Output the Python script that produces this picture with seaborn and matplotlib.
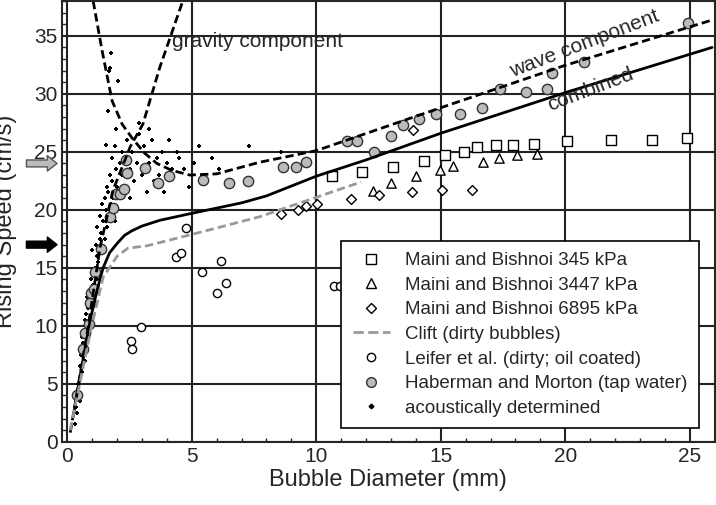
import numpy as np
import pandas as pd
import seaborn as sns
import matplotlib.pyplot as plt
from matplotlib.lines import Line2D

# data
maini345_d = [10.64, 11.84, 13.08, 14.32, 15.16, 15.92, 16.44, 17.24, 17.92, 18.76, 20.08, 21.84, 23.48, 24.88]
maini345_v = [22.9, 23.3, 23.7, 24.2, 24.7, 25.0, 25.4, 25.6, 25.6, 25.7, 25.9, 26.0, 26.0, 26.2]
maini3447_d = [12.28, 13.0, 14.0, 14.96, 15.48, 16.68, 17.36, 18.08, 18.88]
maini3447_v = [21.6, 22.3, 22.9, 23.4, 23.8, 24.1, 24.5, 24.7, 24.8]
maini6895_d = [8.6, 9.28, 9.6, 10.04, 11.4, 12.52, 13.84, 13.88, 15.04, 16.24]
maini6895_v = [19.6, 20.0, 20.3, 20.5, 20.9, 21.3, 21.5, 26.9, 21.7, 21.7]
leifer_d = [4.76, 4.36, 4.56, 5.4, 6.16, 6.0, 6.36, 2.96, 2.56, 2.6, 10.72, 10.96]
leifer_v = [18.4, 15.9, 16.3, 14.6, 15.6, 12.8, 13.7, 9.9, 8.7, 8.0, 13.4, 13.4]
haber_d = [0.4, 0.64, 0.72, 0.88, 0.92, 0.96, 1.08, 1.12, 1.36, 1.72, 1.84, 1.96, 2.12, 2.28, 2.4, 2.36,
           3.12, 3.64, 4.08, 5.44, 6.48, 7.24, 8.68, 9.2, 9.6, 11.24, 11.64, 12.32, 13.0, 13.48, 14.12,
           14.8, 15.76, 16.64, 17.4, 18.44, 19.28, 19.48, 20.76, 24.92]
haber_v = [4.0, 8.0, 9.4, 10.2, 12.0, 12.8, 13.2, 14.6, 16.6, 19.4, 20.2, 21.4, 21.4, 21.8, 23.2, 24.3,
           23.6, 22.3, 22.9, 22.6, 22.3, 22.5, 23.7, 23.7, 24.1, 25.9, 25.9, 25.0, 26.4, 27.3, 27.8,
           28.3, 28.3, 28.8, 30.4, 30.2, 30.4, 31.8, 32.7, 36.1]
acou_d = [0.3, 0.35, 0.4, 0.45, 0.5, 0.5, 0.55, 0.6, 0.6, 0.65, 0.7, 0.7, 0.75, 0.8, 0.8, 0.85, 0.9, 0.9,
          0.95, 1.0, 1.0, 1.05, 1.1, 1.1, 1.15, 1.2, 1.2, 1.25, 1.3, 1.3, 1.35, 1.4, 1.4, 1.45, 1.5, 1.5,
          1.55, 1.6, 1.6, 1.65, 1.7, 1.7, 1.75, 1.8, 1.8, 1.85, 1.9, 1.9, 1.95, 2.0, 2.0, 2.1, 2.1, 2.2,
          2.2, 2.3, 2.3, 2.4, 2.5, 2.5, 2.6, 2.7, 2.8, 2.9, 3.0, 3.1, 3.2, 3.3, 3.4, 3.5, 3.6, 3.7, 3.8,
          3.9, 4.0, 4.1, 4.2, 4.4, 4.5, 4.7, 4.9, 5.1, 5.3, 5.5, 5.8, 6.1, 7.3, 8.6, 1.76, 1.68, 1.72,
          2.04, 1.64, 1.96, 1.56, 2.9, 3.3, 1.2, 0.9]
acou_v = [1.5, 3.0, 2.5, 5.0, 3.5, 6.5, 7.5, 6.0, 9.0, 8.5, 10.5, 7.0, 11.0, 9.5, 12.5, 11.5, 13.0, 10.0,
          14.0, 12.0, 16.5, 13.5, 15.0, 12.0, 17.0, 16.0, 18.5, 15.5, 17.5, 19.5, 18.0, 20.5, 16.5, 19.0,
          21.0, 17.5, 20.0, 22.0, 18.5, 21.5, 23.0, 19.5, 20.5, 24.5, 22.5, 21.0, 25.5, 19.0, 23.5, 22.0,
          20.0, 24.0, 21.5, 23.0, 25.0, 22.0, 24.5, 26.0, 21.0, 23.5, 25.0, 22.5, 24.0, 26.5, 23.0, 25.5,
          21.5, 24.0, 26.0, 22.5, 24.5, 23.0, 25.0, 21.5, 24.0, 26.0, 23.5, 25.0, 24.5, 23.5, 22.0, 24.0,
          25.5, 23.0, 24.5, 23.5, 25.5, 25.0, 33.5, 32.0, 32.2, 31.1, 28.5, 27.0, 25.6, 27.5, 27.0, 14.0, 12.5]

combined_d = [0.24, 0.5, 0.92, 1.2, 1.44, 1.7, 2.0, 2.3, 2.6, 3.0, 3.72, 5.0, 7.0, 8.0, 10.0, 12.0, 15.0, 20.0, 25.9]
combined_v = [2.2, 5.5, 10.5, 13.1, 15.0, 16.3, 17.1, 17.8, 18.2, 18.6, 19.1, 19.7, 20.6, 21.2, 22.9, 24.3, 26.6, 30.1, 34.0]
gravity_d = [0.12, 0.8, 1.32, 1.84, 2.52, 3.04, 3.72, 4.64]
gravity_v = [0.8, 9.4, 16.8, 21.7, 25.4, 27.4, 32.3, 38.0]
wave_d = [1.04, 1.4, 1.8, 2.2, 2.6, 3.1, 3.6, 4.2, 4.92, 6.0, 7.72, 10.0, 15.0, 19.92, 25.96]
wave_v = [38.0, 33.7, 29.4, 27.4, 26.2, 24.9, 24.0, 23.4, 23.0, 23.1, 24.1, 25.1, 28.8, 32.4, 36.4]
clift_d = [0.12, 0.92, 1.44, 2.0, 2.44, 3.2, 5.04, 7.72, 11.8]
clift_v = [1.0, 9.4, 14.2, 16.0, 16.7, 16.9, 17.9, 19.4, 22.4]

sns.set_theme(style="ticks", rc={"font.family": "Liberation Sans"})
fig = plt.figure(figsize=(7.16, 5.05), dpi=100)
ax = fig.add_axes([0.087, 0.125, 0.911, 0.873])

for d, v, ls, c, lw in [(combined_d, combined_v, "-", "black", 2),
                        (gravity_d, gravity_v, (0, (3, 1.5)), "black", 2),
                        (wave_d, wave_v, (0, (3, 1.5)), "black", 2),
                        (clift_d, clift_v, (0, (3, 1.5)), "#999999", 2)]:
    sns.lineplot(x=d, y=v, ax=ax, color=c, lw=lw, linestyle=ls, sort=False, estimator=None)

sns.scatterplot(x=acou_d, y=acou_v, ax=ax, marker="P", s=10, color="black", linewidth=0)
sns.scatterplot(x=maini345_d, y=maini345_v, ax=ax, marker="s", s=45, facecolor="white", edgecolor="black", linewidth=1)
sns.scatterplot(x=maini3447_d, y=maini3447_v, ax=ax, marker="^", s=45, facecolor="white", edgecolor="black", linewidth=1)
sns.scatterplot(x=maini6895_d, y=maini6895_v, ax=ax, marker="D", s=25, facecolor="white", edgecolor="black", linewidth=1)
sns.scatterplot(x=leifer_d, y=leifer_v, ax=ax, marker="o", s=35, facecolor="white", edgecolor="black", linewidth=1)
sns.scatterplot(x=haber_d, y=haber_v, ax=ax, marker="o", s=55, facecolor="#bbbbbb", edgecolor="#333333", linewidth=1)

ax.set_xlim(-0.2, 26)
ax.set_ylim(0, 38)
ax.set_xticks(range(0, 26, 5))
ax.set_yticks(range(0, 36, 5))
ax.set_xticks(range(0, 27), minor=True)
ax.set_yticks(range(0, 39), minor=True)
ax.grid(True, which="major", color="#222222", lw=1.5)
ax.set_axisbelow(True)
ax.tick_params(labelsize=15, direction="in", length=5)
ax.tick_params(which="minor", direction="in", length=3)
for s in ax.spines.values():
    s.set_linewidth(1.5)
ax.set_xlabel("Bubble Diameter (mm)", fontsize=17, labelpad=2)
ax.set_ylabel("Rising Speed (cm/s)", fontsize=17, labelpad=12)

ax.text(4.2, 34.0, "gravity component", fontsize=15)
ax.text(17.9, 31.4, "wave component", fontsize=15, rotation=21, rotation_mode="anchor")
ax.text(19.4, 28.5, "combined", fontsize=15, rotation=21, rotation_mode="anchor")

ax.annotate("", xy=(-0.008, 24), xytext=(-0.055, 24), xycoords=("axes fraction", "data"),
            arrowprops=dict(facecolor="#bbbbbb", edgecolor="#555555", width=5, headwidth=11, headlength=7))
ax.annotate("", xy=(-0.008, 17), xytext=(-0.055, 17), xycoords=("axes fraction", "data"),
            arrowprops=dict(facecolor="black", edgecolor="black", width=5, headwidth=11, headlength=7))

handles = [Line2D([], [], ls="", marker="s", mfc="white", mec="black", ms=7),
           Line2D([], [], ls="", marker="^", mfc="white", mec="black", ms=7),
           Line2D([], [], ls="", marker="D", mfc="white", mec="black", ms=5),
           Line2D([], [], ls="--", color="#999999", lw=2),
           Line2D([], [], ls="", marker="o", mfc="white", mec="black", ms=6),
           Line2D([], [], ls="", marker="o", mfc="#bbbbbb", mec="#333333", ms=7),
           Line2D([], [], ls="", marker="P", color="black", ms=3)]
labels = ["Maini and Bishnoi 345 kPa", "Maini and Bishnoi 3447 kPa", "Maini and Bishnoi 6895 kPa",
          "Clift (dirty bubbles)", "Leifer et al. (dirty; oil coated)", "Haberman and Morton (tap water)",
          "acoustically determined"]
leg = ax.legend(handles, labels, loc="lower right", bbox_to_anchor=(0.99, 0.01), fontsize=13.5,
                frameon=True, fancybox=False, framealpha=1, edgecolor="black", handlelength=2,
                labelspacing=0.4, borderpad=0.6)
leg.get_frame().set_linewidth(1.2)

fig.savefig("out.png", dpi=100)
